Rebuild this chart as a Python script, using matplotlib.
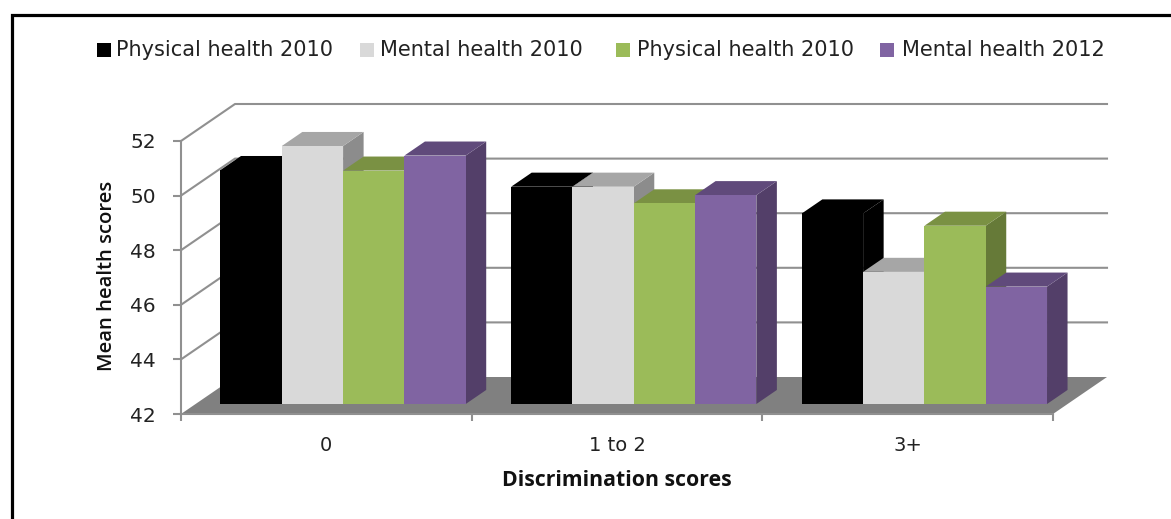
import matplotlib
matplotlib.use("Agg")
from matplotlib import pyplot as plt
from matplotlib.lines import Line2D
from matplotlib.patches import Rectangle

W, H = 1171, 519

groups = ["0", "1 to 2", "3+"]
series = ["Physical health 2010", "Mental health 2010", "Physical health 2010", "Mental health 2012"]
physical_2010 = [50.57, 49.96, 48.98]
mental_2010 = [51.45, 49.96, 46.84]
physical_2010b = [50.55, 49.35, 48.53]
mental_2012 = [51.1, 49.65, 46.3]
values = [physical_2010, mental_2010, physical_2010b, mental_2012]
y_ticks = [42, 44, 46, 48, 50, 52]

front_colors = ["#000000", "#d9d9d9", "#9bbb59", "#8064a2"]
top_colors = ["#000000", "#a6a6a6", "#7a9143", "#604a7b"]
side_colors = ["#000000", "#8c8c8c", "#667a38", "#533f69"]
grid_color = "#909090"
floor_color = "#808080"

plt.rcParams["font.family"] = ["DejaVu Sans"]

fig = plt.figure(figsize=(W / 100, H / 100), dpi=100)
ax = fig.add_axes([181 / W, (H - 414) / H, 872 / W, 273 / H])
ax.set_xlim(0, 3)
ax.set_ylim(42, 52)
ax.patch.set_visible(False)

# depth of the 3d box, in data units
depth_x = 54 / (872 / 3)
depth_y = 37 / 27.3
bar_w = 61.3 / (872 / 3)
bar_pad = 0.0857
z_front, z_back = 0.27, 0.65


def proj(x, y, z):
    return x + z * depth_x, y + z * depth_y


def face(points, color, zorder):
    xy = [proj(*p) for p in points]
    ax.fill([p[0] for p in xy], [p[1] for p in xy], color=color, lw=0, zorder=zorder, clip_on=False)


# floor and back wall
face([(0, 42, 0), (3, 42, 0), (3, 42, 1), (0, 42, 1)], floor_color, 1)
for t in y_ticks[1:]:
    xy = [proj(0, t, 0), proj(0, t, 1), proj(3, t, 1)]
    ax.plot([p[0] for p in xy], [p[1] for p in xy], color=grid_color, lw=1.5, zorder=2, clip_on=False)

# bars, left to right so each one covers the side of the previous
z = 3
for g in range(len(groups)):
    for s in range(len(series)):
        x0 = g + bar_pad + s * bar_w
        x1 = x0 + bar_w
        v = values[s][g]
        face([(x1, 42, z_front), (x1, 42, z_back), (x1, v, z_back), (x1, v, z_front)], side_colors[s], z)
        face([(x0, v, z_front), (x1, v, z_front), (x1, v, z_back), (x0, v, z_back)], top_colors[s], z)
        face([(x0, 42, z_front), (x1, 42, z_front), (x1, v, z_front), (x0, v, z_front)], front_colors[s], z + 0.5)
        z += 1

# axes
for side in ["top", "right"]:
    ax.spines[side].set_visible(False)
for side in ["left", "bottom"]:
    ax.spines[side].set_color(grid_color)
    ax.spines[side].set_linewidth(1.5)
    ax.spines[side].set_zorder(2.5)
ax.set_yticks(y_ticks)
ax.set_xticks([0, 1, 2, 3])
ax.set_xticklabels([])
ax.set_xticks([0.5, 1.5, 2.5], minor=True)
ax.set_xticklabels(groups, minor=True)
ax.tick_params(axis="x", which="major", length=5, width=1.5, color=grid_color)
ax.tick_params(axis="x", which="minor", length=0, pad=16, labelsize=14, labelcolor="#222222")
ax.tick_params(axis="y", length=6, width=1.5, color=grid_color, pad=12, labelsize=14.5, labelcolor="#222222")

fig.text(107 / W, 1 - 276 / H, "Mean health scores", rotation=90, ha="center", va="center",
         family="Open Sans", weight="semibold", fontsize=14.6, color="#111111")
fig.text(617 / W, 1 - 481 / H, "Discrimination scores", ha="center", va="center",
         family="Open Sans", weight="bold", fontsize=15.3, color="#111111")

# legend
legend_x = [96.5, 359.5, 615.5, 880]
text_x = [116.5, 380.5, 637, 902]
for lx, tx, label, c in zip(legend_x, text_x, series, front_colors):
    fig.add_artist(Rectangle((lx / W, 1 - 57 / H), 14.5 / W, 14 / H, color=c, lw=0, transform=fig.transFigure))
    fig.text(tx / W, 1 - 49.5 / H, label, ha="left", va="center", fontsize=15, color="#222222")

# frame of the original figure
fig.add_artist(Line2D([11.5 / W, 11.5 / W, 1], [0, 1 - 14.5 / H, 1 - 14.5 / H], color="black", lw=2.3,
                      solid_joinstyle="miter", transform=fig.transFigure))

fig.savefig("out.png", dpi=100)
